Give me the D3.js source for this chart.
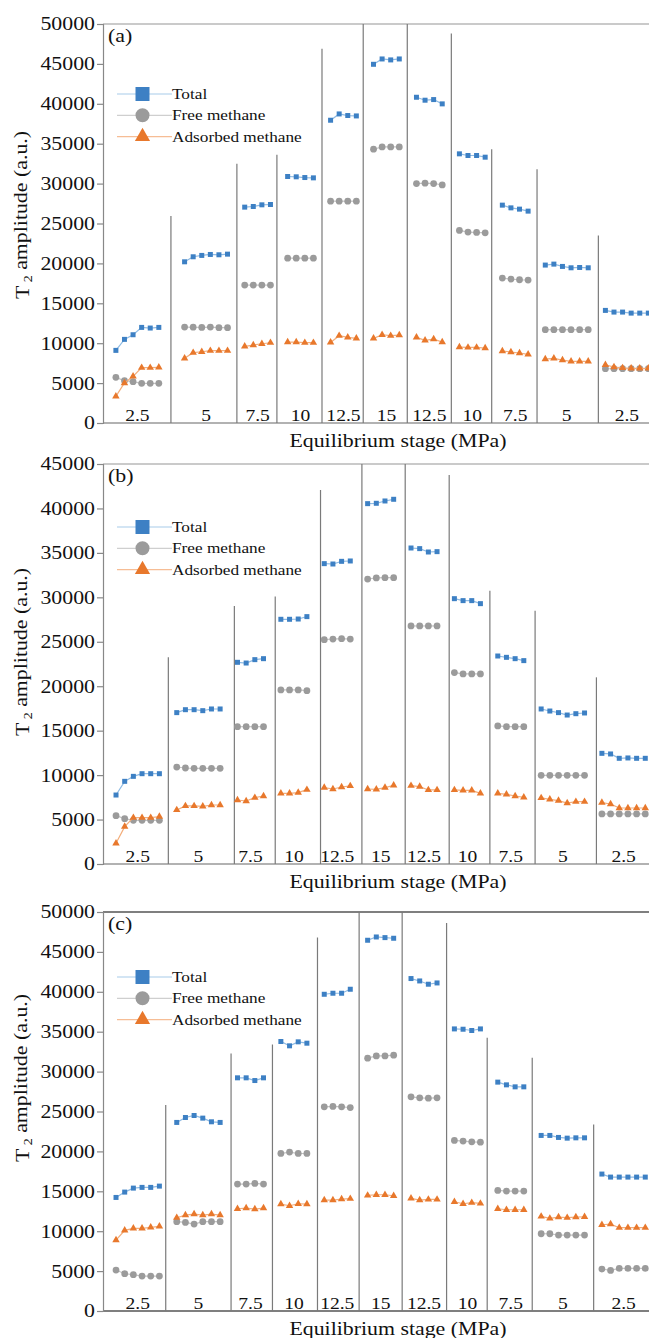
<!DOCTYPE html>
<meta charset="utf-8">
<head>
<script src="https://d3js.org/d3.v7.min.js"></script>
<style>
  body { margin: 0; background: #fff; }
</style>
</head>
<body>
<script>
"use strict";

// ---- data ----
var stages = ["2.5", "5", "7.5", "10", "12.5", "15", "12.5", "10", "7.5", "5", "2.5"];
var seriesNames = ["Total", "Free methane", "Adsorbed methane"];
var yTicks = [0, 5000, 10000, 15000, 20000, 25000, 30000, 35000, 40000, 45000, 50000];

// (a)
var aStart = [0, 8, 15, 20, 25, 30, 35, 40, 45, 50, 57];
var aTotal = [
  [9100, 10480, 11060, 11980, 11900, 11980],
  [20200, 20830, 21000, 21120, 21080, 21160],
  [27050, 27130, 27340, 27380],
  [30890, 30850, 30760, 30720],
  [37940, 38730, 38530, 38480],
  [44950, 45620, 45500, 45620],
  [40820, 40450, 40530, 39990],
  [33730, 33520, 33520, 33310],
  [27300, 26960, 26800, 26550],
  [19790, 19910, 19620, 19450, 19490, 19450],
  [14110, 13900, 13900, 13770, 13770, 13770]
];
var aFree = [
  [5720, 5300, 5180, 4970, 4970, 4970],
  [12020, 12000, 11980, 12020, 11940, 11940],
  [17280, 17280, 17280, 17280],
  [20660, 20660, 20660, 20660],
  [27800, 27800, 27800, 27800],
  [34310, 34600, 34600, 34600],
  [30010, 30050, 30010, 29840],
  [24130, 23920, 23880, 23830],
  [18160, 18030, 17950, 17910],
  [11690, 11690, 11690, 11690, 11690, 11690],
  [6800, 6800, 6800, 6800, 6800, 6800]
];
var aAds = [
  [3340, 5010, 5840, 6930, 6930, 6970],
  [8100, 8810, 8930, 9060, 9060, 9060],
  [9600, 9770, 9930, 10060],
  [10140, 10140, 10060, 10060],
  [10100, 10940, 10730, 10600],
  [10600, 11060, 10940, 11020],
  [10730, 10350, 10520, 10140],
  [9520, 9470, 9470, 9390],
  [9020, 8890, 8770, 8600],
  [8010, 8100, 7890, 7720, 7720, 7720],
  [7300, 7000, 6900, 6850, 6850, 6850]
];
var aSepSlot = [6.41, 14.09, 18.75, 24.0, 28.8, 33.93, 39.06, 43.76, 49.04, 56.18];
var aSepTop = [25940, 32500, 33600, 46900, 50000, 50000, 48800, 34300, 31800, 23500];

// (b)
var bStart = [0, 7, 14, 19, 24, 29, 34, 39, 44, 49, 56];
var bTotal = [
  [7760, 9300, 9860, 10160, 10160, 10160],
  [17030, 17360, 17360, 17250, 17440, 17440],
  [22690, 22610, 22990, 23100],
  [27530, 27530, 27560, 27830],
  [33790, 33750, 34050, 34090],
  [40540, 40580, 40840, 41030],
  [35550, 35480, 35100, 35140],
  [29850, 29630, 29630, 29290],
  [23400, 23250, 23100, 22880],
  [17440, 17210, 17030, 16760, 16910, 16990],
  [12450, 12380, 11890, 11930, 11890, 11890]
];
var bFree = [
  [5440, 5100, 4910, 4910, 4910, 4910],
  [10910, 10800, 10760, 10760, 10760, 10760],
  [15450, 15450, 15450, 15450],
  [19580, 19580, 19580, 19500],
  [25240, 25310, 25350, 25310],
  [32060, 32180, 32210, 32210],
  [26780, 26780, 26780, 26780],
  [21530, 21380, 21380, 21380],
  [15530, 15450, 15450, 15450],
  [9980, 9980, 9980, 9980, 9980, 9980],
  [5630, 5630, 5630, 5630, 5630, 5630]
];
var bAds = [
  [2330, 4200, 5210, 5210, 5210, 5330],
  [6080, 6530, 6530, 6490, 6640, 6640],
  [7200, 7090, 7460, 7650],
  [7950, 7950, 8030, 8360],
  [8590, 8440, 8660, 8780],
  [8440, 8400, 8590, 8850],
  [8810, 8700, 8330, 8330],
  [8330, 8290, 8290, 7950],
  [7950, 7840, 7650, 7500],
  [7430, 7280, 7130, 6860, 7010, 7010],
  [6900, 6750, 6300, 6300, 6300, 6300]
];
var bSepSlot = [6.03, 13.64, 18.35, 23.57, 28.34, 33.33, 38.4, 43.09, 48.3, 55.37];
var bSepTop = [23250, 29030, 30080, 42080, 45000, 45000, 43760, 30750, 28500, 21000];

// (c)
var cStart = [0, 7, 14, 19, 24, 29, 34, 39, 44, 49, 56];
var cTotal = [
  [14230, 14900, 15400, 15490, 15490, 15650],
  [23630, 24250, 24500, 24170, 23710, 23630],
  [29220, 29220, 28880, 29220],
  [33770, 33230, 33730, 33560],
  [39690, 39820, 39820, 40320],
  [46460, 46870, 46790, 46710],
  [41660, 41360, 40950, 41110],
  [35350, 35310, 35150, 35350],
  [28680, 28340, 28090, 28090],
  [22000, 22000, 21750, 21660, 21700, 21700],
  [17160, 16780, 16780, 16780, 16780, 16780]
];
var cFree = [
  [5130, 4670, 4550, 4380, 4380, 4380],
  [11190, 11100, 10890, 11190, 11190, 11190],
  [15900, 15900, 15990, 15900],
  [19740, 19910, 19740, 19740],
  [25590, 25630, 25590, 25500],
  [31680, 31970, 31970, 32060],
  [26840, 26710, 26670, 26710],
  [21370, 21290, 21200, 21160],
  [15110, 15030, 15030, 15030],
  [9680, 9680, 9520, 9520, 9520, 9520],
  [5260, 5090, 5340, 5340, 5340, 5340]
];
var cAds = [
  [8890, 10100, 10350, 10350, 10480, 10600],
  [11690, 12020, 12150, 12020, 12150, 12020],
  [12810, 12900, 12770, 12900],
  [13400, 13190, 13440, 13400],
  [13900, 13900, 14020, 14070],
  [14480, 14570, 14570, 14440],
  [14110, 13900, 13980, 13980],
  [13690, 13440, 13570, 13480],
  [12810, 12690, 12690, 12690],
  [11850, 11600, 11770, 11690, 11770, 11810],
  [10810, 10890, 10440, 10440, 10440, 10440]
];
var cSepSlot = [5.73, 13.26, 18.03, 23.22, 28.02, 32.98, 38.1, 42.78, 47.97, 55.05];
var cSepTop = [25800, 32270, 33390, 46790, 50000, 50000, 48630, 34230, 31720, 23370];

// ---- layout ----
var W = 649, H = 1338;
var left = 103, right = 693;   // plot runs past the image edge, like the cropped original
var stretch = 1.15;            // the figure's serif face is set wide
var serif = "'Liberation Serif', 'Times New Roman', Times, serif";

var panels = [
  { tag: "(a)", top: 24,  bottom: 423,  yMax: 50000, xMax: 67.2, start: aStart, series: [aTotal, aFree, aAds],
    sepSlot: aSepSlot, sepTop: aSepTop, legendDy: 70, titleDy: 191, frame: "#b8b8b8", base: "#999" },
  { tag: "(b)", top: 464, bottom: 864,  yMax: 45000, xMax: 66.5, start: bStart, series: [bTotal, bFree, bAds],
    sepSlot: bSepSlot, sepTop: bSepTop, legendDy: 63, titleDy: 188, frame: "#b8b8b8", base: "#999" },
  { tag: "(c)", top: 912, bottom: 1311, yMax: 50000, xMax: 66.5, start: cStart, series: [cTotal, cFree, cAds],
    sepSlot: cSepSlot, sepTop: cSepTop, legendDy: 65, titleDy: 166, frame: "#555", base: "#555" }
];

var markerFill = ["#3d80c4", "#9b9b9b", "#e8782c"];
var lineColor = ["#8fbbe4", "#c4c4c4", "#f3ad7a"];
var legendLine = ["#a8cbea", "#cfcfcf", "#f6bd95"];
var shapes = [d3.symbolSquare, d3.symbolCircle, d3.symbolTriangle];
var markSize = [25, 36, 24];
var legendSize = [196, 154, 100];

var svg = d3.select("body").append("svg")
  .attr("width", W)
  .attr("height", H);

// text with the wide serif look: scale along the baseline only
function addText(parent, x, y, str, size, anchor, rotate) {
  var g = parent.append("g")
    .attr("transform", "translate(" + x + "," + y + ")" + (rotate ? " rotate(" + rotate + ")" : "") + " scale(" + stretch + ",1)");
  return g.append("text")
    .attr("x", 0).attr("y", 0)
    .attr("text-anchor", anchor || "start")
    .attr("font-family", serif)
    .style("font-family", serif)
    .style("font-size", size + "px")
    .attr("fill", "#111")
    .text(str);
}

panels.forEach(function(p) {
  var g = svg.append("g");
  var x = d3.scaleLinear().domain([-1.5, p.xMax]).range([left, right]);
  var y = d3.scaleLinear().domain([0, p.yMax]).range([p.bottom, p.top]);

  // frame: top line, x axis line
  g.append("line").attr("x1", left).attr("x2", right).attr("y1", y(p.yMax)).attr("y2", y(p.yMax))
    .attr("stroke", p.frame).attr("stroke-width", 1.3);
  g.append("line").attr("x1", left).attr("x2", right).attr("y1", y(0)).attr("y2", y(0))
    .attr("stroke", p.base).attr("stroke-width", 1.3);

  // y axis
  var ticks = yTicks.filter(function(t) { return t <= p.yMax; });
  var yAxis = d3.axisLeft(y).tickValues(ticks).tickSize(6).tickFormat("");
  var ax = g.append("g").attr("transform", "translate(" + left + ",0)").call(yAxis);
  ax.selectAll("path, line").attr("stroke", "#888").attr("stroke-width", 1.2);
  ticks.forEach(function(t) {
    addText(g, 95, y(t), String(t), 19, "end").attr("dy", "0.34em");
  });

  // stage separators
  p.sepSlot.forEach(function(s, i) {
    g.append("line")
      .attr("x1", x(s)).attr("x2", x(s))
      .attr("y1", y(0)).attr("y2", y(p.sepTop[i]))
      .attr("stroke", "#7a7a7a").attr("stroke-width", 1.2);
  });

  // stage labels
  stages.forEach(function(st, i) {
    var n = p.series[0][i].length;
    addText(g, x(p.start[i] + (n - 1) / 2), y(0) - 2, st, 17, "middle");
  });

  // series: line within each stage + markers
  var line = d3.line().x(function(d) { return x(d[0]); }).y(function(d) { return y(d[1]); });
  p.series.forEach(function(ser, k) {
    var sg = g.append("g");
    ser.forEach(function(vals, i) {
      var pts = vals.map(function(v, j) { return [p.start[i] + j, v]; });
      sg.append("path").attr("d", line(pts))
        .attr("fill", "none").attr("stroke", lineColor[k]).attr("stroke-width", 1.2);
      sg.selectAll(null).data(pts).enter().append("path")
        .attr("transform", function(d) { return "translate(" + x(d[0]) + "," + y(d[1]) + ")"; })
        .attr("d", d3.symbol().type(shapes[k]).size(markSize[k]))
        .attr("fill", markerFill[k]);
    });
  });

  // legend
  seriesNames.forEach(function(name, k) {
    var ly = p.top + p.legendDy + k * 21.3;
    g.append("line").attr("x1", 117).attr("x2", 172).attr("y1", ly).attr("y2", ly)
      .attr("stroke", legendLine[k]).attr("stroke-width", 1.2);
    g.append("path").attr("transform", "translate(142.5," + ly + ")")
      .attr("d", d3.symbol().type(shapes[k]).size(legendSize[k]))
      .attr("fill", markerFill[k]);
    addText(g, 172, ly, name, 15, "start").attr("dy", "0.33em");
  });

  // panel tag
  addText(g, 108, p.top + 18, p.tag, 19, "start");

  // axis titles
  addText(g, (left + right) / 2, p.bottom + 24, "Equilibrium stage (MPa)", 19, "middle");
  var yt = addText(g, 22, p.top + p.titleDy, "", 19, "middle", -90).attr("dy", "0.35em");
  yt.append("tspan").text("T");
  yt.append("tspan").attr("dy", "0.25em").style("font-size", "12px").text(" 2");
  yt.append("tspan").attr("dy", "-0.25em").text(" amplitude (a.u.)");
});
</script>
</body>
